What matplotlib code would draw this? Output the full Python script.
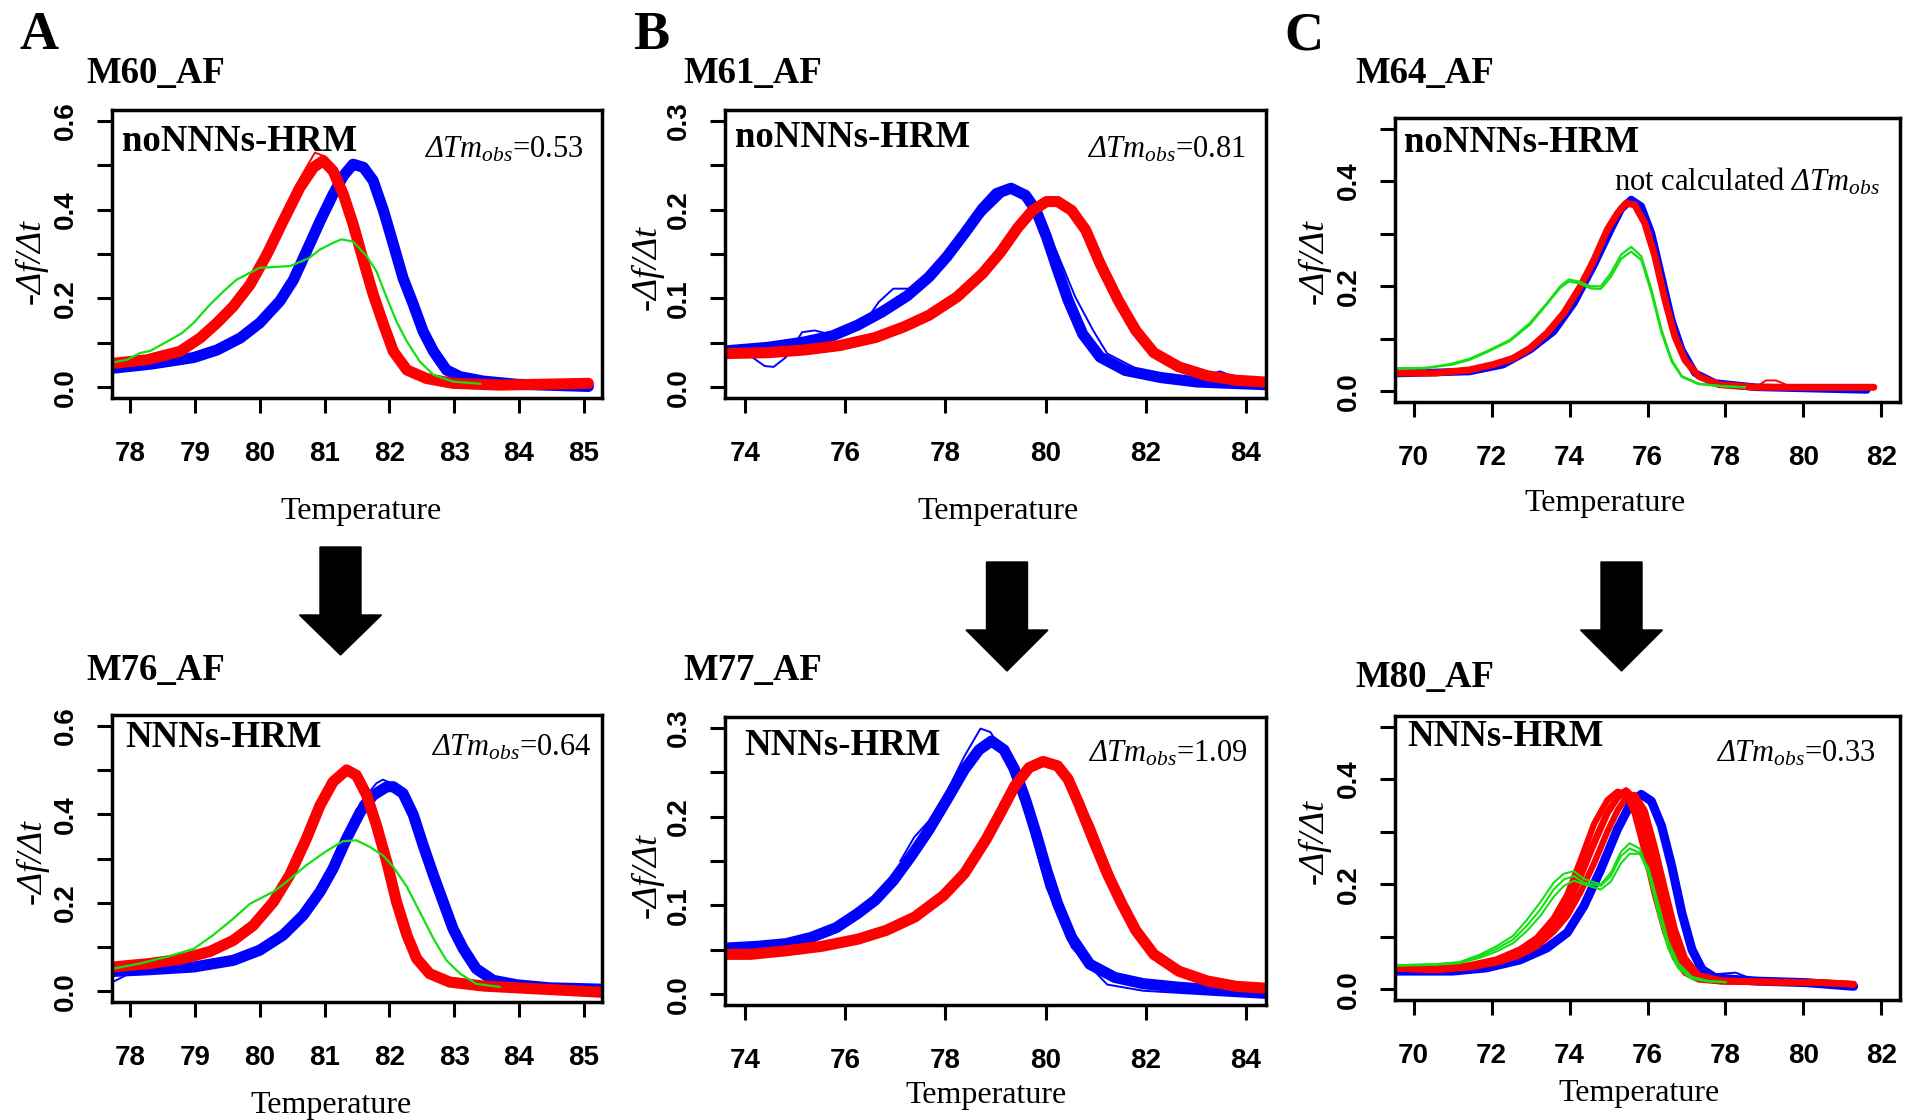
import numpy as np
import matplotlib
matplotlib.use("Agg")
import matplotlib.pyplot as plt
from matplotlib.patches import Polygon

# math text: italic Times-like letters (Delta Tm_obs, -Df/Dt)
plt.rcParams["mathtext.fontset"] = "custom"
plt.rcParams["mathtext.rm"] = "Liberation Serif:italic"
plt.rcParams["mathtext.it"] = "Liberation Serif:italic"
plt.rcParams["mathtext.bf"] = "Liberation Serif:bold"

RED, BLUE, GREEN = "#ff0000", "#0000ff", "#12e012"

# ---------------- data ----------------
# M60_AF (noNNNs-HRM)
m60_red_t = [77.73, 78.26, 78.77, 79.08, 79.34, 79.59, 79.85, 80.11, 80.36, 80.62, 80.83, 80.98,
             81.13, 81.29, 81.44, 81.60, 81.75, 81.91, 82.06, 82.27, 82.57, 82.98, 83.70, 85.07]
m60_red_v = [0.054, 0.062, 0.081, 0.111, 0.145, 0.182, 0.231, 0.299, 0.374, 0.450, 0.495, 0.510,
             0.487, 0.434, 0.367, 0.284, 0.209, 0.141, 0.081, 0.039, 0.020, 0.009, 0.005, 0.009]
m60_red_thin_t = [79.85, 80.11, 80.36, 80.62, 80.85, 81.00, 81.13, 81.29]
m60_red_thin_v = [0.235, 0.310, 0.390, 0.470, 0.528, 0.520, 0.490, 0.430]
m60_blue_t = [77.73, 78.31, 78.98, 79.34, 79.70, 80.00, 80.31, 80.52, 80.72, 80.93, 81.13, 81.29, 81.44,
              81.60, 81.75, 81.91, 82.06, 82.21, 82.37, 82.52, 82.68, 82.88, 83.09, 83.45, 83.96, 85.07]
m60_blue_v = [0.043, 0.052, 0.067, 0.084, 0.111, 0.145, 0.194, 0.242, 0.306, 0.374, 0.434, 0.476, 0.502,
              0.495, 0.465, 0.397, 0.322, 0.246, 0.186, 0.126, 0.081, 0.039, 0.024, 0.014, 0.007, 0.002]
m60_green_t = [77.73, 77.95, 78.15, 78.31, 78.57, 78.80, 78.98, 79.23, 79.44, 79.64, 79.85, 80.00, 80.26, 80.47,
               80.75, 80.93, 81.13, 81.26, 81.44, 81.65, 81.80, 81.96, 82.11, 82.27, 82.47, 82.68, 82.98, 83.40]
m60_green_v = [0.056, 0.062, 0.077, 0.082, 0.103, 0.122, 0.145, 0.186, 0.216, 0.242, 0.258, 0.269, 0.271, 0.273,
               0.290, 0.310, 0.325, 0.333, 0.328, 0.295, 0.261, 0.201, 0.148, 0.103, 0.058, 0.028, 0.013, 0.008]

# M76_AF (NNNs-HRM)
m76_red_t = [77.73, 78.31, 78.82, 79.23, 79.59, 79.90, 80.21, 80.46, 80.72, 80.93, 81.13, 81.34,
             81.49, 81.65, 81.80, 81.96, 82.11, 82.27, 82.42, 82.62, 82.93, 83.45, 84.22, 85.27]
m76_red_v = [0.055, 0.063, 0.074, 0.090, 0.115, 0.149, 0.202, 0.262, 0.345, 0.420, 0.473, 0.500,
             0.488, 0.443, 0.375, 0.292, 0.202, 0.127, 0.074, 0.040, 0.021, 0.012, 0.006, -0.002]
m76_blue_t = [77.73, 78.31, 78.98, 79.59, 80.00, 80.36, 80.67, 80.93, 81.13, 81.34, 81.55, 81.75, 81.96,
              82.06, 82.21, 82.37, 82.52, 82.68, 82.83, 82.98, 83.14, 83.34, 83.60, 83.96, 84.47, 85.27]
m76_blue_v = [0.045, 0.049, 0.055, 0.070, 0.093, 0.127, 0.172, 0.225, 0.277, 0.345, 0.405, 0.443, 0.462,
              0.462, 0.447, 0.398, 0.330, 0.262, 0.202, 0.142, 0.096, 0.051, 0.025, 0.015, 0.008, 0.005]
m76_blue_thin_t = [77.73, 78.05, 78.98, 80.00, 80.67, 81.13, 81.55, 81.80, 81.90, 82.06, 82.30, 82.60,
                   82.85, 83.10, 83.40, 83.80]
m76_blue_thin_v = [0.021, 0.045, 0.055, 0.095, 0.178, 0.290, 0.425, 0.470, 0.478, 0.468, 0.405, 0.285,
                   0.175, 0.098, 0.040, 0.018]
m76_green_t = [77.73, 78.15, 78.57, 78.98, 79.28, 79.59, 79.85, 80.21, 80.41, 80.72, 81.01, 81.28,
               81.49, 81.70, 81.90, 82.06, 82.27, 82.47, 82.68, 82.88, 83.09, 83.34, 83.70]
m76_green_v = [0.051, 0.063, 0.078, 0.096, 0.127, 0.164, 0.198, 0.225, 0.247, 0.285, 0.315, 0.339,
               0.341, 0.326, 0.307, 0.281, 0.236, 0.179, 0.119, 0.070, 0.040, 0.017, 0.010]

# M61_AF (noNNNs-HRM)
m61_blue_t = [73.61, 74.46, 75.18, 75.75, 76.25, 76.74, 77.24, 77.67, 78.03, 78.38, 78.74, 79.02,
              79.31, 79.60, 79.81, 80.02, 80.24, 80.45, 80.74, 81.09, 81.59, 82.30, 83.02, 84.37]
m61_blue_v = [0.041, 0.045, 0.051, 0.058, 0.070, 0.085, 0.103, 0.124, 0.147, 0.173, 0.201, 0.218,
              0.224, 0.216, 0.199, 0.169, 0.132, 0.098, 0.060, 0.034, 0.019, 0.011, 0.006, 0.003]
m61_blue_thin_t = [73.61, 74.04, 74.39, 74.57, 74.82, 75.14, 75.39, 75.67, 76.25, 76.46, 76.67, 76.96, 77.28,
                   77.53, 78.38, 79.31, 79.81, 80.24, 80.59, 80.95, 81.23, 81.95, 83.02, 83.48, 83.80, 84.37]
m61_blue_thin_v = [0.041, 0.038, 0.024, 0.023, 0.034, 0.062, 0.064, 0.060, 0.071, 0.079, 0.096, 0.111, 0.111,
                   0.115, 0.173, 0.224, 0.203, 0.150, 0.102, 0.064, 0.038, 0.017, 0.009, 0.018, 0.011, 0.006]
m61_red_t = [73.61, 74.46, 75.18, 75.89, 76.60, 77.17, 77.67, 78.24, 78.74, 79.10, 79.45, 79.74,
             80.02, 80.24, 80.52, 80.80, 81.09, 81.45, 81.80, 82.16, 82.66, 83.23, 83.80, 84.37]
m61_red_v = [0.038, 0.039, 0.042, 0.047, 0.056, 0.068, 0.081, 0.102, 0.128, 0.152, 0.180, 0.199,
             0.209, 0.209, 0.199, 0.177, 0.139, 0.098, 0.064, 0.039, 0.023, 0.013, 0.008, 0.006]

# M77_AF (NNNs-HRM)
m77_blue_t = [73.61, 74.25, 74.82, 75.32, 75.82, 76.25, 76.60, 76.96, 77.31, 77.67, 78.03, 78.38, 78.67, 78.92,
              79.17, 79.38, 79.60, 79.81, 80.02, 80.24, 80.52, 80.88, 81.38, 81.95, 82.66, 83.37, 84.37]
m77_blue_v = [0.052, 0.054, 0.057, 0.064, 0.075, 0.091, 0.106, 0.128, 0.155, 0.185, 0.219, 0.253, 0.275, 0.285,
              0.275, 0.253, 0.219, 0.181, 0.140, 0.102, 0.064, 0.034, 0.019, 0.012, 0.008, 0.005, 0.003]
m77_blue_thin_t = [77.10, 77.38, 77.67, 78.03, 78.38, 78.70, 78.90, 79.17, 79.60, 80.02, 80.52, 81.23, 81.95, 84.37]
m77_blue_thin_v = [0.150, 0.177, 0.195, 0.228, 0.268, 0.299, 0.295, 0.270, 0.205, 0.120, 0.053, 0.011, 0.004, -0.004]
m77_red_t = [73.61, 74.11, 74.82, 75.53, 76.25, 76.82, 77.39, 77.96, 78.38, 78.81, 79.10, 79.38, 79.67,
             79.95, 80.24, 80.45, 80.66, 80.95, 81.23, 81.52, 81.80, 82.16, 82.66, 83.23, 83.80, 84.37]
m77_red_v = [0.045, 0.045, 0.049, 0.054, 0.062, 0.072, 0.087, 0.111, 0.136, 0.174, 0.204, 0.234, 0.255,
             0.262, 0.257, 0.242, 0.215, 0.174, 0.136, 0.102, 0.072, 0.045, 0.026, 0.015, 0.009, 0.007]
m77_red_thin_t = [79.95, 80.24, 80.66, 80.95, 81.23, 81.52, 81.80, 82.16]
m77_red_thin_v = [0.265, 0.262, 0.225, 0.190, 0.150, 0.110, 0.075, 0.045]

# M64_AF (noNNNs-HRM)
m64_blue_t = [69.51, 71.43, 72.29, 72.98, 73.59, 74.11, 74.63, 75.06, 75.32, 75.58, 75.84, 76.10,
              76.36, 76.62, 76.88, 77.22, 77.74, 78.78, 81.63]
m64_blue_v = [0.034, 0.038, 0.051, 0.079, 0.114, 0.168, 0.241, 0.308, 0.346, 0.365, 0.352, 0.301,
              0.219, 0.136, 0.079, 0.035, 0.016, 0.008, 0.003]
m64_red_t = [69.51, 70.56, 71.43, 72.03, 72.55, 72.98, 73.42, 73.85, 74.28, 74.63, 74.97, 75.23,
             75.45, 75.67, 75.93, 76.19, 76.45, 76.70, 76.96, 77.31, 77.83, 78.78, 81.81]
m64_red_v = [0.035, 0.035, 0.041, 0.051, 0.063, 0.082, 0.111, 0.149, 0.200, 0.251, 0.308, 0.339,
             0.358, 0.355, 0.320, 0.257, 0.174, 0.105, 0.060, 0.029, 0.013, 0.008, 0.008]
m64_red_thin_t = [78.78, 79.04, 79.30, 79.65, 80.00]
m64_red_thin_v = [0.008, 0.021, 0.021, 0.010, 0.008]
m64_green_t = [69.51, 70.30, 70.99, 71.43, 71.86, 72.47, 72.98, 73.42, 73.76, 73.98, 74.24, 74.54,
               74.80, 75.06, 75.32, 75.58, 75.84, 76.10, 76.36, 76.62, 76.88, 77.31, 77.92, 78.50]
m64_green_a_v = [0.044, 0.044, 0.053, 0.062, 0.076, 0.098, 0.130, 0.168, 0.200, 0.213, 0.209, 0.200,
                 0.200, 0.225, 0.260, 0.275, 0.257, 0.194, 0.117, 0.060, 0.029, 0.015, 0.010, 0.008]
m64_green_b_v = [0.044, 0.045, 0.051, 0.060, 0.074, 0.096, 0.127, 0.166, 0.197, 0.209, 0.206, 0.196,
                 0.195, 0.218, 0.252, 0.266, 0.250, 0.188, 0.112, 0.057, 0.028, 0.014, 0.010, 0.008]

# M80_AF (NNNs-HRM)
m80_blue_t = [69.51, 71.00, 71.86, 72.72, 73.42, 73.94, 74.37, 74.80, 75.23, 75.58, 75.84,
              76.10, 76.36, 76.62, 76.88, 77.14, 77.40, 77.74, 78.78, 80.08, 81.29]
m80_blue_v = [0.035, 0.035, 0.041, 0.056, 0.079, 0.108, 0.159, 0.228, 0.305, 0.355, 0.371,
              0.358, 0.311, 0.235, 0.146, 0.076, 0.038, 0.022, 0.016, 0.013, 0.006]
m80_blue_thin_t = [77.40, 77.74, 78.26, 78.61, 79.00]
m80_blue_thin_v = [0.038, 0.029, 0.032, 0.022, 0.016]
m80_red_t = [69.51, 70.56, 71.43, 72.12, 72.72, 73.16, 73.59, 73.94, 74.28, 74.63, 74.97, 75.23,
             75.45, 75.67, 75.93, 76.19, 76.45, 76.70, 76.96, 77.31, 77.92, 79.21, 80.51, 81.29]
m80_red_mid_v = [0.041, 0.038, 0.044, 0.054, 0.070, 0.089, 0.121, 0.159, 0.216, 0.279, 0.336, 0.365,
                 0.378, 0.362, 0.305, 0.228, 0.152, 0.089, 0.044, 0.022, 0.016, 0.014, 0.013, 0.010]
m80_red_early_v = [0.043, 0.040, 0.046, 0.057, 0.076, 0.098, 0.135, 0.180, 0.245, 0.315, 0.360, 0.376,
                   0.372, 0.335, 0.262, 0.180, 0.110, 0.060, 0.032, 0.019, 0.015, 0.014, 0.013, 0.010]
m80_red_late_v = [0.040, 0.037, 0.042, 0.051, 0.065, 0.082, 0.110, 0.140, 0.185, 0.240, 0.300, 0.340,
                  0.365, 0.370, 0.340, 0.270, 0.190, 0.115, 0.060, 0.027, 0.017, 0.014, 0.013, 0.010]
m80_green_t = [69.51, 70.56, 71.17, 71.69, 72.12, 72.55, 72.90, 73.25, 73.59, 73.85, 74.11, 74.37,
               74.80, 75.06, 75.32, 75.54, 75.80, 76.02, 76.28, 76.53, 76.79, 77.14, 77.57, 78.00]
m80_green_a_v = [0.046, 0.048, 0.052, 0.066, 0.082, 0.102, 0.132, 0.166, 0.203, 0.220, 0.225, 0.210,
                 0.200, 0.222, 0.262, 0.278, 0.268, 0.225, 0.145, 0.078, 0.040, 0.020, 0.015, 0.014]
m80_green_b_v = [0.046, 0.048, 0.051, 0.063, 0.077, 0.095, 0.121, 0.152, 0.190, 0.209, 0.216, 0.203,
                 0.197, 0.216, 0.254, 0.268, 0.260, 0.222, 0.146, 0.082, 0.044, 0.022, 0.016, 0.014]
m80_green_c_v = [0.045, 0.047, 0.050, 0.060, 0.072, 0.088, 0.111, 0.140, 0.176, 0.197, 0.207, 0.200,
                 0.190, 0.205, 0.240, 0.258, 0.258, 0.232, 0.162, 0.092, 0.050, 0.024, 0.016, 0.014]

dtm_labels = ["0.53", "0.81", None, "0.64", "1.09", "0.33"]

# ---------------- layout (pixels, origin top-left) ----------------
W, H = 1914, 1120
fig = plt.figure(figsize=(W / 100, H / 100), dpi=100)


def fx(x):
    return x / W


def fy(y):
    return 1 - y / H


def ftext(x, y, s, **kw):
    return fig.text(fx(x), fy(y), s, **kw)


def r_lim(lo, hi):
    pad = 0.04 * (hi - lo)
    return lo - pad, hi + pad


SERIF = "Liberation Serif"


def make_panel(box, xr, xstep, yr, ystep):
    x0, y0, x1, y1 = box
    ax = fig.add_axes([fx(x0), fy(y1), (x1 - x0) / W, (y1 - y0) / H])
    ax.set_xlim(*r_lim(*xr))
    ax.set_ylim(*r_lim(*yr))
    xt = np.arange(xr[0], xr[1] + 1e-9, xstep)
    ax.set_xticks(xt, [f"{v:g}" for v in xt], fontfamily="Liberation Sans",
                  fontweight="bold", fontsize=20)
    yt = np.arange(yr[0], yr[1] + 1e-9, ystep)
    ylab = [f"{v:.1f}" if i % 2 == 0 else "" for i, v in enumerate(yt)]
    ax.set_yticks(yt, ylab, fontfamily="Liberation Sans", fontweight="bold",
                  fontsize=20, rotation=90, va="center")
    ax.tick_params(direction="out", length=10.8, width=2.2)
    ax.tick_params(axis="x", pad=20)
    ax.tick_params(axis="y", pad=13)
    for sp in ax.spines.values():
        sp.set_linewidth(2.5)
    return ax


def band(ax, t, v, color, lw):
    ax.plot(t, v, color=color, lw=lw, solid_joinstyle="round", solid_capstyle="round")


def thin(ax, t, v, color, lw=1.4):
    ax.plot(t, v, color=color, lw=lw, solid_joinstyle="round")


# panel A top: M60_AF
ax = make_panel((112, 110, 602, 398), (78, 85), 1, (0, 0.6), 0.1)
band(ax, m60_blue_t, m60_blue_v, BLUE, 8)
band(ax, m60_red_t, m60_red_v, RED, 8)
thin(ax, m60_red_thin_t, m60_red_thin_v, RED)
thin(ax, m60_green_t, m60_green_v, GREEN, 1.6)

# panel B top: M61_AF
ax = make_panel((725, 110, 1266, 398), (74, 84), 2, (0, 0.3), 0.05)
band(ax, m61_blue_t, m61_blue_v, BLUE, 8)
thin(ax, m61_blue_thin_t, m61_blue_thin_v, BLUE)
band(ax, m61_red_t, m61_red_v, RED, 8)

# panel C top: M64_AF
ax = make_panel((1395, 118, 1900, 402), (70, 82), 2, (0, 0.5), 0.1)
band(ax, m64_blue_t, m64_blue_v, BLUE, 5.5)
band(ax, m64_red_t, m64_red_v, RED, 5)
thin(ax, m64_red_thin_t, m64_red_thin_v, RED)
thin(ax, m64_green_t, m64_green_a_v, GREEN, 1.6)
thin(ax, m64_green_t, m64_green_b_v, GREEN, 1.6)

# panel A bottom: M76_AF
ax = make_panel((112, 715, 602, 1002), (78, 85), 1, (0, 0.6), 0.1)
band(ax, m76_blue_t, m76_blue_v, BLUE, 8)
thin(ax, m76_blue_thin_t, m76_blue_thin_v, BLUE)
band(ax, m76_red_t, m76_red_v, RED, 8)
thin(ax, m76_green_t, m76_green_v, GREEN, 1.6)

# panel B bottom: M77_AF
ax = make_panel((725, 717, 1266, 1005), (74, 84), 2, (0, 0.3), 0.05)
band(ax, m77_blue_t, m77_blue_v, BLUE, 8)
thin(ax, m77_blue_thin_t, m77_blue_thin_v, BLUE)
band(ax, m77_red_t, m77_red_v, RED, 8)
thin(ax, m77_red_thin_t, m77_red_thin_v, RED)

# panel C bottom: M80_AF
ax = make_panel((1395, 716, 1900, 1000), (70, 82), 2, (0, 0.5), 0.1)
band(ax, m80_blue_t, m80_blue_v, BLUE, 6.5)
thin(ax, m80_blue_thin_t, m80_blue_thin_v, BLUE)
band(ax, m80_red_t, m80_red_early_v, RED, 4.5)
band(ax, m80_red_t, m80_red_late_v, RED, 4.5)
band(ax, m80_red_t, m80_red_mid_v, RED, 5)
for gv in (m80_green_a_v, m80_green_b_v, m80_green_c_v):
    thin(ax, m80_green_t, gv, GREEN, 1.5)

# ---------------- text ----------------
for letter, x in (("A", 19), ("B", 633), ("C", 1284)):
    ftext(x, 49, letter, family=SERIF, weight="bold", fontsize=39, va="baseline")

titles = [("M60_AF", 86, 83), ("M61_AF", 683, 83), ("M64_AF", 1355, 83),
          ("M76_AF", 86, 680), ("M77_AF", 683, 680), ("M80_AF", 1355, 687)]
for s, x, y in titles:
    ftext(x, y, s, family=SERIF, weight="bold", fontsize=26.5, va="baseline")

inner = [("noNNNs-HRM", 122, 151), ("noNNNs-HRM", 735, 147), ("noNNNs-HRM", 1404, 152),
         ("NNNs-HRM", 125, 747), ("NNNs-HRM", 744, 755), ("NNNs-HRM", 1407, 746)]
for s, x, y in inner:
    ftext(x, y, s, family=SERIF, weight="bold", fontsize=26.5, va="baseline")

dtm_pos = [(584, 157), (1246, 157), None, (591, 755), (1248, 761), (1876, 761)]
for lab, pos in zip(dtm_labels, dtm_pos):
    if lab is None:
        continue
    ftext(pos[0], pos[1], r"$\Delta Tm_{obs}$=" + lab, family=SERIF, fontsize=22,
          ha="right", va="baseline")
ftext(1880, 190, r"not calculated $\Delta Tm_{obs}$", family=SERIF, fontsize=22,
      ha="right", va="baseline")

temp_pos = [(361, 512), (998, 512), (1605, 504), (331, 1106), (986, 1095), (1639, 1094)]
for x, y in temp_pos:
    ftext(x, y, "Temperature", family=SERIF, fontsize=23, ha="center", va="center")

ylab_pos = [(32, 262), (648, 268), (1315, 262), (33, 862), (648, 876), (1315, 842)]
for x, y in ylab_pos:
    ftext(x, y, r"-$\Delta f/\Delta t$", family=SERIF, style="italic", fontsize=26,
          rotation=90, ha="center", va="center")

# ---------------- arrows between rows ----------------
arrows = [(340.5, 547, 615, 655), (1007, 562, 630, 671), (1621.5, 562, 630, 671)]
for xc, top, head_y, tip in arrows:
    sh, hh = 20.5, 41
    pts = [(xc - sh, top), (xc + sh, top), (xc + sh, head_y), (xc + hh, head_y),
           (xc, tip), (xc - hh, head_y), (xc - sh, head_y)]
    fig.patches.append(Polygon([(fx(a), fy(b)) for a, b in pts], closed=True,
                               facecolor="black", edgecolor="black",
                               transform=fig.transFigure, figure=fig))

fig.savefig("out.png", dpi=100, facecolor="white")
